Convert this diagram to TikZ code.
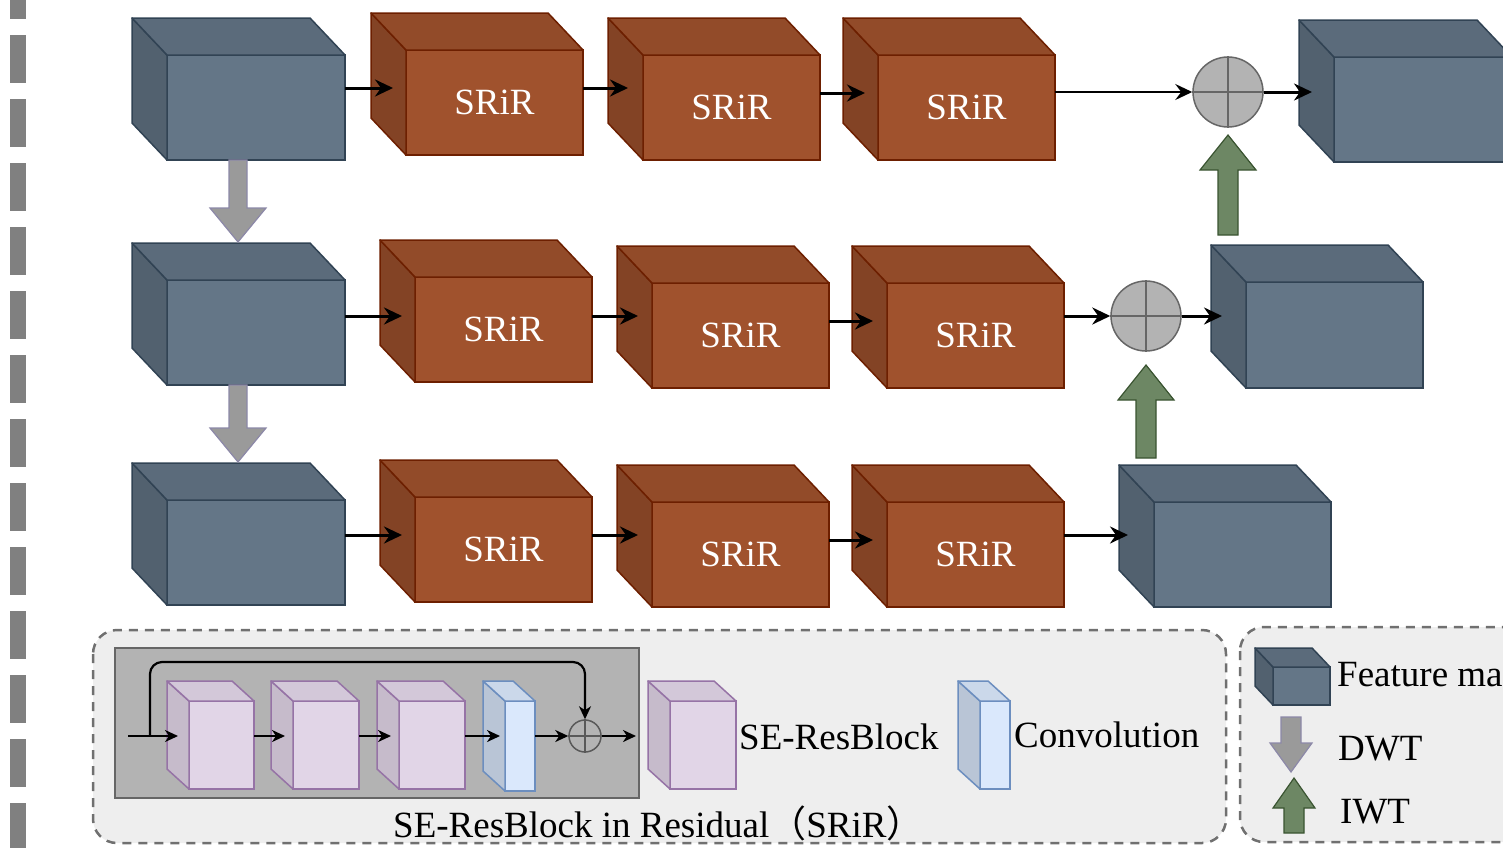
\documentclass[tikz,border=0pt]{standalone}
\usepackage{fontspec}
\setmainfont{Liberation Serif}
\newfontfamily\cjk{Noto Sans CJK SC}
\usetikzlibrary{arrows.meta,calc}
\definecolor{fmfill}{HTML}{647687}
\definecolor{fmline}{HTML}{314354}
\definecolor{srfill}{HTML}{A0522D}
\definecolor{srline}{HTML}{6D1F00}
\definecolor{sefill}{HTML}{E1D5E7}
\definecolor{seline}{HTML}{9673A6}
\definecolor{cvfill}{HTML}{DAE8FC}
\definecolor{cvline}{HTML}{6C8EBF}
\definecolor{gnfill}{HTML}{6D8764}
\definecolor{gnline}{HTML}{3A5431}
\definecolor{dwfill}{HTML}{9A9A9A}
\definecolor{dwline}{HTML}{8C88A8}
\definecolor{lgfill}{HTML}{EEEEEE}
\definecolor{lgline}{HTML}{707070}
\definecolor{boxfill}{HTML}{B3B3B3}
\definecolor{boxline}{HTML}{666666}
\tikzset{
  fmfront/.style={draw=fmline, fill=fmfill, line width=1.5pt},
  fmside/.style={draw=fmline, fill=fmfill!82!black, line width=1.5pt, line join=round},
  fmtop/.style={draw=fmline, fill=fmfill!91!black, line width=1.5pt, line join=round},
  srfront/.style={draw=srline, fill=srfill, line width=1.5pt},
  srside/.style={draw=srline, fill=srfill!82!black, line width=1.5pt, line join=round},
  srtop/.style={draw=srline, fill=srfill!91!black, line width=1.5pt, line join=round},
  sefront/.style={draw=seline, fill=sefill, line width=1.5pt},
  seside/.style={draw=seline, fill=sefill!88!black, line width=1.5pt, line join=round},
  setop/.style={draw=seline, fill=sefill!94!black, line width=1.5pt, line join=round},
  cvfront/.style={draw=cvline, fill=cvfill, line width=1.5pt},
  cvside/.style={draw=cvline, fill=cvfill!85!black, line width=1.5pt, line join=round},
  cvtop/.style={draw=cvline, fill=cvfill!93!black, line width=1.5pt, line join=round},
  arr/.style={-{Stealth[length=18pt,width=17pt,inset=6pt]}, line width=3pt},
  arrthin/.style={-{Stealth[length=17pt,width=16pt,inset=6pt]}, line width=2.2pt},
  arrS/.style={-{Stealth[length=13pt,width=12pt,inset=4pt]}, line width=2.2pt},
  plusnode/.style={circle, draw=boxline, fill=boxfill, line width=1.5pt, minimum size=70pt, inner sep=0pt},
  splus/.style={circle, draw=black!65, line width=1.5pt, minimum size=32pt, inner sep=0pt},
  dwtarrow/.style={draw=dwline, fill=dwfill, line width=1.2pt, line join=miter},
  iwtarrow/.style={draw=gnline, fill=gnfill, line width=1.2pt, line join=miter},
  legbox/.style={draw=lgline, fill=lgfill, line width=2.5pt, dash pattern=on 9pt off 7pt, rounded corners=24pt},
  lbl/.style={anchor=west, inner sep=0pt, text=black}
}
% name, x1, y1, x2, y2, dx, dy, style prefix, text
\newcommand\cubeblk[9]{%
  \node[#8front, rectangle, inner sep=0pt, outer sep=0pt,
        minimum width={(#4)-(#2)}, minimum height={(#5)-(#3)}, text=white]
        (#1) at ({((#2)+(#4))/2},{((#3)+(#5))/2}) {#9};
  \path[#8side] (#1.north west) -- ++(-#6,-#7) -- ++(0,{(#5)-(#3)}) -- (#1.south west) -- cycle;
  \path[#8top] (#1.north west) -- ++(-#6,-#7) -- ++({(#4)-(#2)},0) -- (#1.north east) -- cycle;
}
% x, y start, y head base, y tip, shaft half width, head half width, style
\newcommand\vblock[7]{%
  \path[#7] ({#1-#5},#2) -- ({#1-#5},#3) -- ({#1-#6},#3) -- (#1,#4) -- ({#1+#6},#3) -- ({#1+#5},#3) -- ({#1+#5},#2) -- cycle;
}
\begin{document}
\begin{tikzpicture}[x=1pt, y=-1pt, font=\fontsize{37}{40}\selectfont]
\useasboundingbox (0,0) rectangle (1503,847);
\clip (0,0) rectangle (1503,847);

% left dashed bar
\draw[draw=black!50, line width=16pt, dash pattern=on 48pt off 16pt] (18,-29) -- (18,900);

% legend boxes
\path[legbox] (93,630) rectangle (1226,843);
\path[legbox] (1240,627) rectangle (1580,842);

% feature maps
\cubeblk{fm1}{167}{55}{345}{160}{35}{37}{fm}{}
\cubeblk{fm2}{167}{280}{345}{385}{35}{37}{fm}{}
\cubeblk{fm3}{167}{500}{345}{605}{35}{37}{fm}{}
\cubeblk{fmr1}{1334}{57}{1512}{162}{35}{37}{fm}{}
\cubeblk{fmr2}{1246}{282}{1423}{388}{35}{37}{fm}{}
\cubeblk{fmr3}{1154}{502}{1331}{607}{35}{37}{fm}{}

% SRiR blocks
\cubeblk{s1a}{406}{50}{583}{155}{35}{37}{sr}{SRiR}
\cubeblk{s1b}{643}{55}{820}{160}{35}{37}{sr}{SRiR}
\cubeblk{s1c}{878}{55}{1055}{160}{35}{37}{sr}{SRiR}
\cubeblk{s2a}{415}{277}{592}{382}{35}{37}{sr}{SRiR}
\cubeblk{s2b}{652}{283}{829}{388}{35}{37}{sr}{SRiR}
\cubeblk{s2c}{887}{283}{1064}{388}{35}{37}{sr}{SRiR}
\cubeblk{s3a}{415}{497}{592}{602}{35}{37}{sr}{SRiR}
\cubeblk{s3b}{652}{502}{829}{607}{35}{37}{sr}{SRiR}
\cubeblk{s3c}{887}{502}{1064}{607}{35}{37}{sr}{SRiR}

% adders
\node[plusnode] (p1) at (1228,92) {};
\draw[draw=boxline, line width=1.5pt] (p1.north) -- (p1.south) (p1.west) -- (p1.east);
\node[plusnode] (p2) at (1146,316) {};
\draw[draw=boxline, line width=1.5pt] (p2.north) -- (p2.south) (p2.west) -- (p2.east);

% row 1 arrows
\draw[arr] (fm1.east |- 0,88) -- ($(s1a.west |- 0,88)+(-13,0)$);
\draw[arr] (s1a.east |- 0,88) -- ($(s1b.west |- 0,88)+(-15,0)$);
\draw[arr] (s1b.east |- 0,93) -- ($(s1c.west |- 0,93)+(-13,0)$);
\draw[arrthin] (s1c.east |- 0,92) -- (p1.west);
\draw[arr] (p1.east) -- ($(fmr1.west |- p1)+(-22,0)$);
% row 2 arrows
\draw[arr] (fm2.east |- 0,316) -- ($(s2a.west |- 0,316)+(-13,0)$);
\draw[arr] (s2a.east |- 0,316) -- ($(s2b.west |- 0,316)+(-14,0)$);
\draw[arr] (s2b.east |- 0,321) -- ($(s2c.west |- 0,321)+(-14,0)$);
\draw[arr] (s2c.east |- 0,316) -- (p2.west);
\draw[arr] (p2.east) -- ($(fmr2.west |- p2)+(-24,0)$);
% row 3 arrows
\draw[arr] (fm3.east |- 0,535) -- ($(s3a.west |- 0,535)+(-13,0)$);
\draw[arr] (s3a.east |- 0,535) -- ($(s3b.west |- 0,535)+(-14,0)$);
\draw[arr] (s3b.east |- 0,540) -- ($(s3c.west |- 0,540)+(-14,0)$);
\draw[arr] (s3c.east |- 0,535) -- ($(fmr3.west |- 0,535)+(-26,0)$);

% DWT / IWT arrows
\vblock{238}{160}{208}{242}{9}{28}{dwtarrow}
\vblock{238}{385}{428}{462}{9}{28}{dwtarrow}
\vblock{1228}{235}{170}{135}{10}{28}{iwtarrow}
\vblock{1146}{458}{400}{365}{10}{28}{iwtarrow}

% SRiR detail box
\draw[fill=boxfill, draw=boxline, line width=1.5pt] (115,648) rectangle (639,798);
\cubeblk{se1}{189}{701}{254}{789}{22}{20}{se}{}
\cubeblk{se2}{293}{701}{359}{789}{22}{20}{se}{}
\cubeblk{se3}{399}{701}{465}{789}{22}{20}{se}{}
\cubeblk{cv1}{505}{701}{535}{791}{22}{20}{cv}{}
\node[splus] (sp) at (585,736) {};
\draw[draw=black!65, line width=1.5pt] (sp.north) -- (sp.south) (sp.west) -- (sp.east);
\coordinate (in) at (128,736);
\coordinate (sk) at (150,736);
\coordinate (out) at (636,736);
\draw[arrS] (in) -- ($(se1.west |- 0,736)+(-11,0)$);
\draw[arrS] (se1.east |- 0,736) -- ($(se2.west |- 0,736)+(-8,0)$);
\draw[arrS] (se2.east |- 0,736) -- ($(se3.west |- 0,736)+(-8,0)$);
\draw[arrS] (se3.east |- 0,736) -- ($(cv1.west |- 0,736)+(-5,0)$);
\draw[arrS] (cv1.east |- 0,736) -- (sp.west);
\draw[arrS] (sp.east) -- (out);
\draw[arrS, rounded corners=12pt] (sk) -- (sk |- 0,662) -- (sp |- 0,662) -- (sp.north);
\node[lbl] (cap) at (393,823) {SE-ResBlock in Residual{\cjk （}SRiR{\cjk ）}};

% legend items
\cubeblk{lse}{670}{701}{736}{789}{22}{20}{se}{}
\node[lbl] (lset) at (739,737) {SE-ResBlock};
\cubeblk{lcv}{980}{701}{1010}{789}{22}{20}{cv}{}
\node[lbl] (lcvt) at (1014,735) {Convolution};
\cubeblk{lfm}{1273}{667}{1330}{705}{18}{19}{fm}{}
\node[lbl] (lfmt) at (1337,678) {Feature map};
\vblock{1291}{717}{743}{772}{10}{21}{dwtarrow}
\node[lbl] (ldwt) at (1338,749) {DWT};
\vblock{1294}{833}{808}{778}{10}{21}{iwtarrow}
\node[lbl] (liwt) at (1340,812) {IWT};
\end{tikzpicture}
\end{document}
